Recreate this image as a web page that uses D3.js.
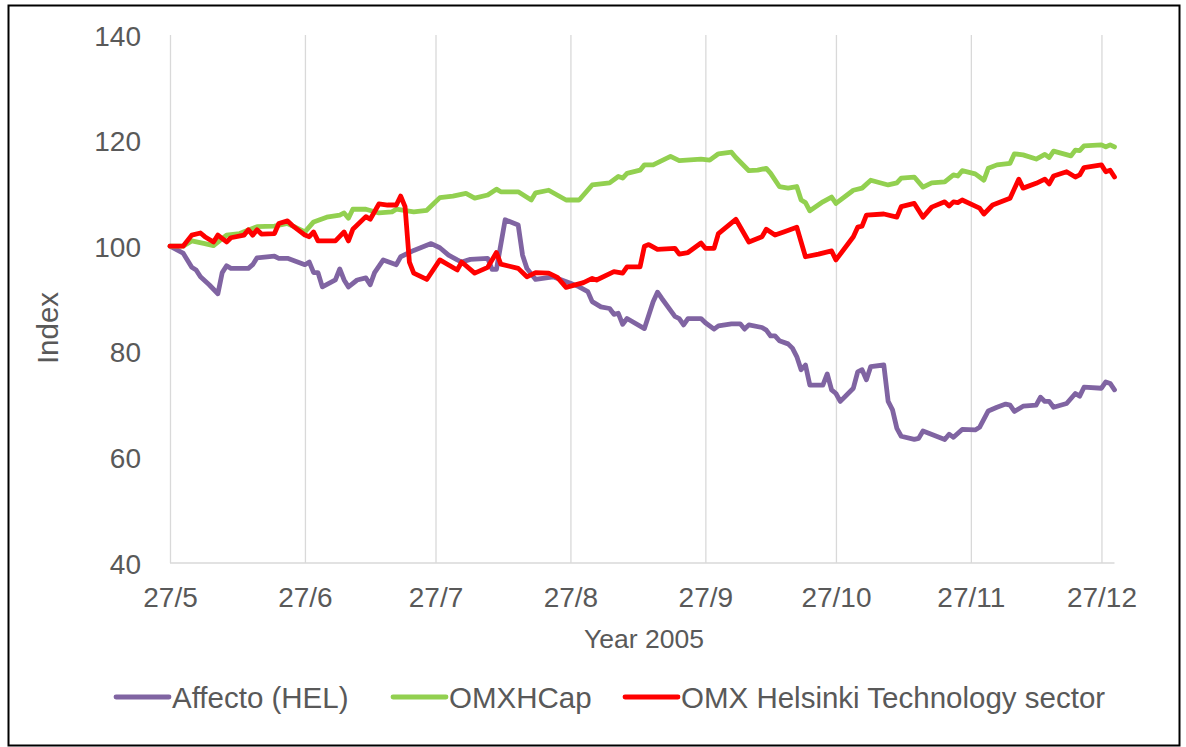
<!DOCTYPE html>
<html>
<head>
<meta charset="utf-8">
<script src="https://cdn.jsdelivr.net/npm/d3@7"></script>
<style>
  html, body { margin: 0; padding: 0; background: #fff; }
  svg { display: block; font-family: "Liberation Sans", Arial, sans-serif; }
</style>
</head>
<body>
<svg id="chart" width="1186" height="747"></svg>
<script>
// ---- Data (days since 27 May 2005, index values) ----
const startDate = "2005-05-27";
const endDate = "2005-12-30";
const tickDays = [0, 31, 61, 92, 123, 153, 184, 214];
const tickLabels = ["27/5", "27/6", "27/7", "27/8", "27/9", "27/10", "27/11", "27/12"];
const yTicks = [40, 60, 80, 100, 120, 140];
const seriesNames = ["Affecto (HEL)", "OMXHCap", "OMX Helsinki Technology sector"];

const affectoDays = [0,3,5,6,7,9,11,12,13,14,18,19,20,24,25,27,31,32,33,34,35,38,39,40,41,43,45,46,47,49,52,53,56,60,62,64,66,67,69,73,74,75,77,80,81,82,84,88,92,94,96,97,99,101,102,103,104,105,109,111,112,113,116,117,118,119,122,123,125,126,129,131,132,133,136,137,138,139,140,142,143,144,145,146,147,150,151,152,153,154,157,158,159,160,161,164,165,166,167,168,171,172,173,178,179,180,182,185,186,188,190,192,193,194,196,199,200,201,202,203,206,208,209,210,214,215,216,217];
const affectoValues = [100,98.7,96,95.5,94.2,92.7,91,95,96.3,95.8,95.8,96.5,97.8,98.1,97.7,97.7,96.5,97,95,95,92.3,93.6,95.7,93.6,92.3,93.6,94,92.7,95,97.4,96.5,98,99.2,100.5,99.7,98.3,97.4,97,97.5,97.7,95.6,95.6,105,104,98.3,95.8,93.7,94.2,93,92.3,91.4,89.5,88.5,88.2,87.1,87.3,85.2,86.3,84.4,89.5,91.3,90.1,86.7,86.3,85.1,86.3,86.3,85.5,84.3,84.9,85.3,85.3,84.3,85.1,84.6,84.1,83,83,82.1,81.5,80.7,79.1,76.6,77.5,73.7,73.7,75.8,72.8,72.1,70.6,73.1,76.2,76.6,74.7,77.2,77.5,70.6,69,65.5,64,63.4,63.6,65,63.4,64.4,63.8,65.3,65.2,65.7,68.8,69.5,70.1,69.9,68.7,69.7,69.9,71.4,70.6,70.6,69.5,70.2,72.1,71.6,73.3,73.1,74.3,74,72.8];

const omxhcapDays = [0,3,5,8,10,13,16,20,24,27,31,33,36,39,40,41,42,45,48,51,52,56,59,62,65,68,70,73,75,76,80,83,84,87,91,94,97,101,103,104,105,108,109,111,115,117,122,124,126,129,130,133,135,137,138,140,142,144,145,146,147,150,152,153,157,159,161,165,167,168,171,173,175,178,180,181,182,185,187,188,190,193,194,196,199,201,202,203,207,208,209,210,214,215,216,217];
const omxhcapValues = [100,100,101,100.5,100.1,102.1,102.4,103.7,103.8,104.3,102.7,104.6,105.5,105.9,106.3,105.3,107,107,106.3,106.5,107,106.5,106.8,109.2,109.5,110,109.1,109.7,110.8,110.3,110.3,108.75,110.1,110.6,108.75,108.75,111.6,112,113.2,112.9,113.8,114.4,115.4,115.4,117,116.2,116.5,116.3,117.5,117.8,116.8,114.3,114.4,114.75,113.8,111.3,111,111.3,108.75,108.25,106.7,108.4,109.3,108.1,110.6,111,112.5,111.6,112,112.9,113.1,111.2,112,112.2,113.5,113.3,114.3,113.7,112.5,114.75,115.4,115.7,117.5,117.3,116.5,117.4,116.8,118,117.1,118.2,118.1,119,119.2,118.8,119.2,118.8];

const techDays = [0,3,5,7,8,10,11,13,14,17,18,19,20,21,24,25,27,28,31,32,33,34,38,40,41,42,45,46,48,50,52,53,54,55,56,59,62,66,67,70,73,75,76,80,82,84,87,89,91,95,97,98,102,104,105,108,109,110,112,116,117,119,122,123,125,126,130,133,136,137,139,141,144,146,149,152,153,157,158,159,160,164,167,168,171,173,175,178,179,180,181,182,186,187,189,193,195,196,199,201,202,203,206,208,209,210,214,215,216,217];
const techValues = [100,100,102.1,102.5,101.8,100.8,102.1,100.8,101.6,102.1,103.1,102.1,103.1,102.3,102.4,104.3,104.8,104,102.1,101.8,102.7,101,101,102.7,101,103.2,105.6,105.1,108,107.8,107.8,109.5,107.5,97,94.9,93.7,97.4,95.5,97,94.9,96,98.8,96.6,95.8,94.2,95,94.9,94.1,92.2,93.1,93.9,93.6,95.2,94.9,96.1,96.1,100,100.3,99.4,99.6,98.5,98.8,100.6,99.6,99.6,102.4,105.1,100.8,101.8,103.2,102.1,102.7,103.6,98,98.5,99.1,97.4,101.8,103.6,103.8,105.9,106.1,105.5,107.5,108.1,105.5,107.4,108.4,107.6,108.4,108.25,108.75,107.2,106.1,107.8,109.1,112.7,111,111.9,112.7,111.8,113.3,114.1,113.1,113.5,114.9,115.4,114.1,114.4,113.1];

const colors = ["#8064A2", "#92D050", "#FF0000"];

// ---- Build ----
const parse = d3.timeParse("%Y-%m-%d");
const t0 = parse(startDate), t1 = parse(endDate);
const dayToDate = d => d3.timeDay.offset(t0, d);

const svg = d3.select("#chart");
const x = d3.scaleTime().domain([t0, t1]).range([170, 1114.5]);
const y = d3.scaleLinear().domain([40, 140]).range([563, 35]);

const textColor = "#595959";
const gridColor = "#D9D9D9";

// frame
svg.append("rect").attr("x", 8.5).attr("y", 5.5).attr("width", 1171).attr("height", 740)
  .attr("fill", "#fff").attr("stroke", "#000").attr("stroke-width", 2);

// vertical gridlines via axis
const tickDates = tickDays.map(dayToDate);
const gridAxis = d3.axisBottom(x).tickValues(tickDates).tickSize(-(563 - 35)).tickFormat("");
const gg = svg.append("g").attr("transform", "translate(0,563)").call(gridAxis);
gg.select(".domain").remove();
gg.selectAll("line").attr("stroke", gridColor).attr("stroke-width", 1.3);

// bottom axis line
svg.append("line").attr("x1", 170).attr("x2", 1114.5).attr("y1", 563).attr("y2", 563)
  .attr("stroke", gridColor).attr("stroke-width", 1.3);

// x tick labels
const xa = d3.axisBottom(x).tickValues(tickDates).tickSize(0).tickPadding(0)
  .tickFormat((d, i) => tickLabels[i]);
const xg = svg.append("g").attr("transform", "translate(0,563)").call(xa);
xg.select(".domain").remove();
xg.selectAll("text").attr("fill", textColor).attr("font-size", 28)
  .attr("font-family", "Liberation Sans, Arial, sans-serif").attr("dy", null).attr("y", 44);

// y tick labels
const ya = d3.axisLeft(y).tickValues(yTicks).tickSize(0).tickPadding(0);
const yg = svg.append("g").attr("transform", "translate(141,0)").call(ya);
yg.select(".domain").remove();
yg.selectAll("text").attr("fill", textColor).attr("font-size", 28)
  .attr("font-family", "Liberation Sans, Arial, sans-serif").attr("dy", "0.36em");

// axis titles
svg.append("text").attr("x", 644).attr("y", 648).attr("text-anchor", "middle")
  .attr("fill", textColor).attr("font-size", 26.5).text("Year 2005");
svg.append("text").attr("transform", "translate(58,328) rotate(-90)").attr("text-anchor", "middle")
  .attr("fill", textColor).attr("font-size", 29.5).text("Index");

// lines
const seriesDays = [affectoDays, omxhcapDays, techDays];
const seriesVals = [affectoValues, omxhcapValues, techValues];
const line = d3.line().x(d => x(dayToDate(d[0]))).y(d => y(d[1])).curve(d3.curveLinear);
seriesDays.forEach((days, i) => {
  const pts = days.map((d, j) => [d, seriesVals[i][j]]);
  svg.append("path").datum(pts).attr("d", line).attr("fill", "none")
    .attr("stroke", colors[i]).attr("stroke-width", 4.8)
    .attr("stroke-linejoin", "round").attr("stroke-linecap", "round");
});

// legend
const legendX = [116, 393, 625];
seriesNames.forEach((name, i) => {
  const g = svg.append("g").attr("transform", `translate(${legendX[i]},697)`);
  g.append("line").attr("x1", 0).attr("x2", 53).attr("y1", 0).attr("y2", 0)
    .attr("stroke", colors[i]).attr("stroke-width", 4.8).attr("stroke-linecap", "round");
  g.append("text").attr("x", 56).attr("y", 10.5).attr("fill", textColor)
    .attr("font-size", 29.5).text(name);
});
</script>
</body>
</html>
